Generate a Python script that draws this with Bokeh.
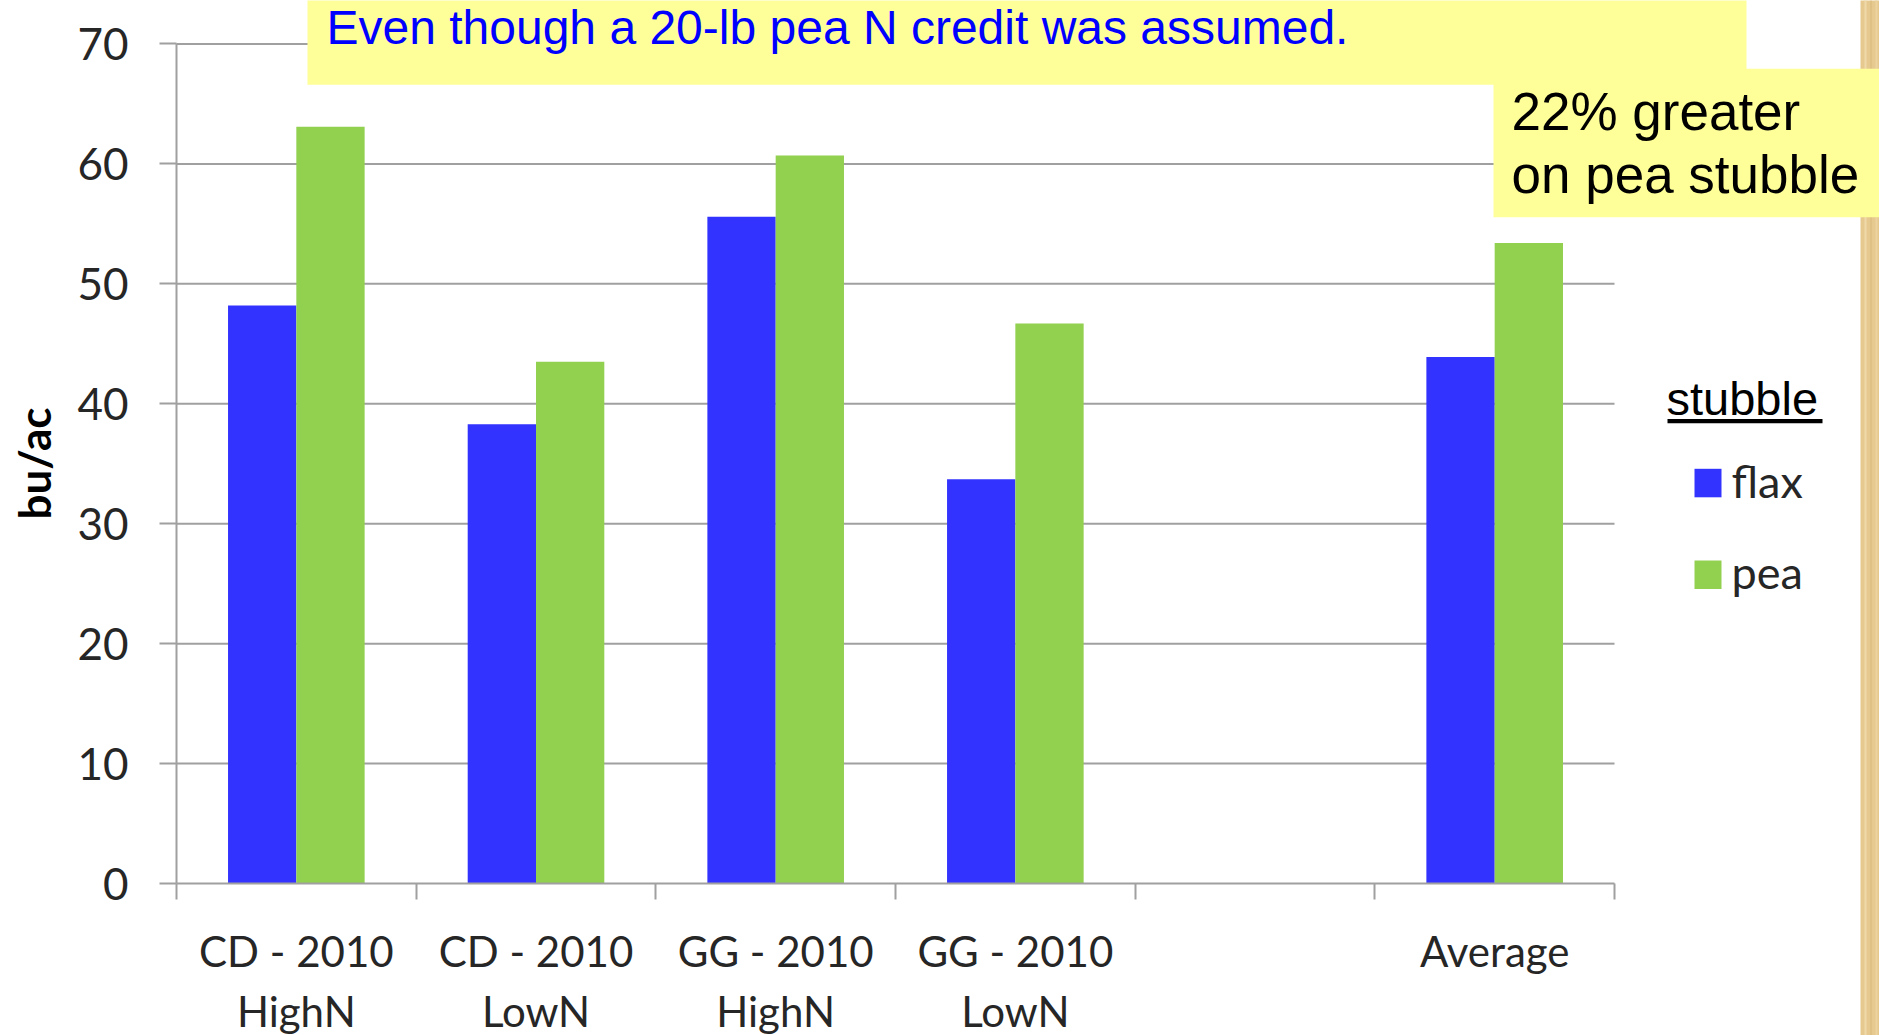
from bokeh.plotting import figure
from bokeh.models import Range1d, FixedTicker, Label, BoxAnnotation
from bokeh.embed import file_html
from bokeh.resources import INLINE

# ---------------- data ----------------
categories = ["CD - 2010\nHighN", "CD - 2010\nLowN", "GG - 2010\nHighN",
              "GG - 2010\nLowN", "", "Average"]
series_names = ["flax", "pea"]
flax = [48.2, 38.3, 55.6, 33.7, None, 43.9]
pea = [63.1, 43.5, 60.7, 46.7, None, 53.4]
y_ticks = [0, 10, 20, 30, 40, 50, 60, 70]
colors = ["#3333FF", "#92D050"]

title_text = "Even though a 20-lb pea N credit was assumed."
note_lines = ["22% greater", "on pea stubble"]
legend_title = "stubble"
y_label = "bu/ac"

# ---------------- layout ----------------
W, H = 1879, 1035
OFF = 0                      # page offset of the canvas
X0_PAGE, Y0_PAGE = 176, 883  # page pixel of data (0, 0)
PX_X = 239.67                # pixels per category
PX_Y = 11.993                # pixels per bu/ac
n = len(categories)

x_start = -(X0_PAGE - OFF) / PX_X
x_end = (W + OFF - X0_PAGE) / PX_X
y_start = -(H + OFF - Y0_PAGE) / PX_Y
y_end = (Y0_PAGE - OFF) / PX_Y


def dx(sx):  # page pixel -> data x
    return (sx - X0_PAGE) / PX_X


def dy(sy):  # page pixel -> data y
    return (Y0_PAGE - sy) / PX_Y


BASE_SHIFT = 0.36  # Label baseline correction (fraction of font size)


def text_label(x_px, base_px, text, font, size, color):
    return Label(x=dx(x_px), y=dy(base_px - BASE_SHIFT * size), text=text, text_font=font,
                 text_font_size=f"{size}px", text_color=color, text_align="left",
                 text_baseline="alphabetic")


p = figure(width=W, height=H, output_backend="svg", toolbar_location=None,
           title=None, x_range=Range1d(x_start, x_end), y_range=Range1d(y_start, y_end),
           min_border_left=0, min_border_right=0, min_border_top=0,
           min_border_bottom=0)
p.outline_line_color = None
p.background_fill_color = "white"
p.border_fill_color = "white"
p.xgrid.visible = False
p.ygrid.visible = False

GRID = "#a0a0a0"
TXT = "#262626"
CAL = "Lato"

# gridlines (only across the category area)
p.segment(x0=[0] * (len(y_ticks) - 1), x1=[n] * (len(y_ticks) - 1),
          y0=y_ticks[1:], y1=y_ticks[1:], line_color=GRID, line_width=2,
          level="underlay")

# bars
bar_w = 0.285
for k, (vals, col) in enumerate(zip([flax, pea], colors)):
    xs = [i + 0.5 + (k - 0.5) * bar_w for i, v in enumerate(vals) if v is not None]
    tops = [v for v in vals if v is not None]
    p.vbar(x=xs, top=tops, bottom=0, width=bar_w, fill_color=col, line_color=None)

# x axis (fixed at y = 0)
xa = p.xaxis[0]
xa.fixed_location = 0
xa.ticker = FixedTicker(ticks=[i + 0.5 for i in range(n)], minor_ticks=list(range(n + 1)))
xa.major_label_overrides = {i + 0.5: c for i, c in enumerate(categories)}
xa.bounds = (0, n)
xa.axis_line_color = GRID
xa.axis_line_width = 2
xa.major_tick_line_color = None
xa.major_tick_out = 0
xa.major_tick_in = 0
xa.minor_tick_line_color = GRID
xa.minor_tick_line_width = 2
xa.minor_tick_out = 16
xa.minor_tick_in = 0
xa.major_label_standoff = 26
xa.major_label_text_font = CAL
xa.major_label_text_font_size = "42px"
xa.major_label_text_color = TXT
xa.major_label_text_line_height = 1.2

# y axis (fixed at x = 0)
ya = p.yaxis[0]
ya.fixed_location = 0
ya.ticker = FixedTicker(ticks=y_ticks, minor_ticks=[])
ya.bounds = (0, 70)
ya.axis_line_color = GRID
ya.axis_line_width = 2
ya.major_tick_line_color = GRID
ya.major_tick_line_width = 2
ya.major_tick_out = 17
ya.major_tick_in = 0
ya.minor_tick_line_color = None
ya.major_label_standoff = 31
ya.major_label_text_font = CAL
ya.major_label_text_font_size = "44px"
ya.major_label_text_color = TXT
ya.axis_label = y_label
ya.axis_label_text_font = CAL
ya.axis_label_text_font_style = "bold"
ya.axis_label_text_font_size = "44px"
ya.axis_label_text_color = "#000000"
ya.axis_label_standoff = 14

# right-edge textured strip (slide background)
p.add_layout(BoxAnnotation(left=dx(1860), right=x_end + 1, bottom=y_start - 5, top=y_end + 5,
                           fill_color="#E6C98F", fill_alpha=1, line_color=None))
for sx0, sx1, c in [(1864, 1866, "#EFD9AA"), (1870, 1871, "#D8B87C"), (1875, 1877, "#ECD3A0")]:
    p.add_layout(BoxAnnotation(left=dx(sx0), right=dx(sx1), bottom=y_start - 5, top=y_end + 5,
                               fill_color=c, fill_alpha=1, line_color=None))

# yellow note boxes
p.add_layout(BoxAnnotation(left=dx(307), right=dx(1746), bottom=dy(84.3), top=y_end + 5,
                           fill_color="#FFFF99", fill_alpha=1, line_color=None))
p.add_layout(BoxAnnotation(left=dx(1493), right=x_end + 1, bottom=dy(216.7), top=dy(68.3),
                           fill_color="#FFFF99", fill_alpha=1, line_color=None))

p.add_layout(text_label(326, 44, title_text, "Liberation Sans", 48, "#0000FF"))
for line, base in zip(note_lines, [130, 193.3]):
    p.add_layout(text_label(1511, base, line, "Liberation Sans", 53, "#000000"))

# legend (drawn by hand)
p.add_layout(text_label(1666, 415, legend_title, "Liberation Sans", 47, "#000000"))
p.add_layout(BoxAnnotation(left=dx(1667), right=dx(1822), bottom=dy(422.7), top=dy(418.5),
                           fill_color="#000000", fill_alpha=1, line_color=None))
for name, col, top_px, base in zip(series_names, colors, [468.3, 560], [496.7, 588]):
    p.add_layout(BoxAnnotation(left=dx(1694), right=dx(1721), bottom=dy(top_px + 28.5),
                               top=dy(top_px), fill_color=col, fill_alpha=1, line_color=None))
    p.add_layout(text_label(1731, base, name, CAL, 45, TXT))

open("out.html", "w").write(file_html(p, INLINE))
